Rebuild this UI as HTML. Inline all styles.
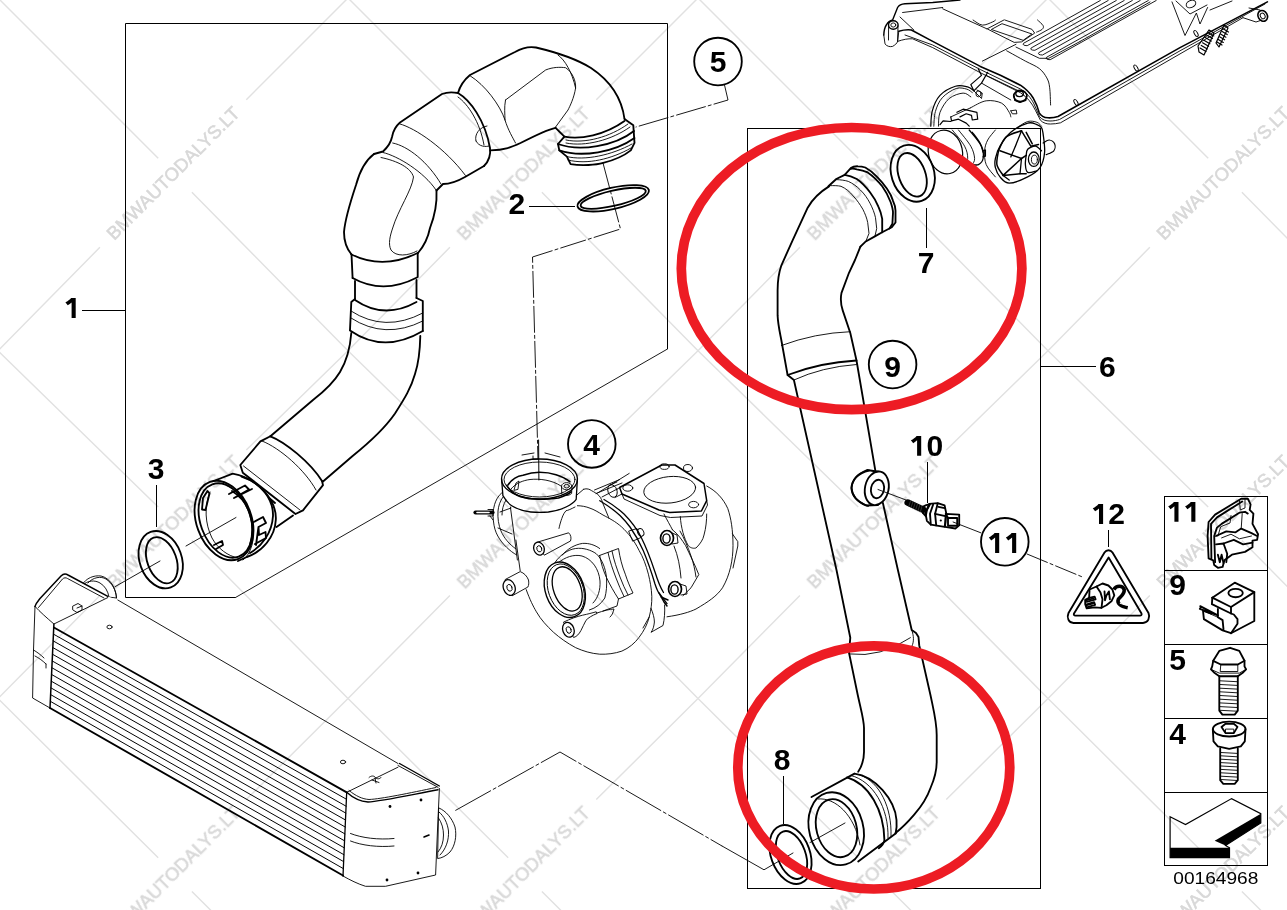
<!DOCTYPE html>
<html><head><meta charset="utf-8"><title>Diagram</title>
<style>
html,body{margin:0;padding:0;background:#fff;}
body{width:1287px;height:910px;overflow:hidden;font-family:"Liberation Sans",sans-serif;}
svg{display:block;}
.k{stroke:#000;fill:none;stroke-width:1.85;stroke-linecap:round;stroke-linejoin:round;}
.t{stroke:#000;fill:none;stroke-width:0.9;stroke-linecap:round;stroke-linejoin:round;}
.w{fill:#fff;}
.lbl{font-family:"Liberation Sans",sans-serif;font-weight:bold;fill:#000;text-anchor:middle;}
</style></head><body>
<svg width="1287" height="910" viewBox="0 0 1287 910">
<rect width="1287" height="910" fill="#fff"/>
<!-- frames and labels -->
<g class="t" style="stroke-width:1;stroke-linecap:butt">
<path d="M125.5,23.5H667.5V349"/>
<path d="M235.5,597.5H125.5V23.5"/>
<path d="M747.5,128V889"/><path d="M1040.5,128V889"/><path d="M747,128.5H1041"/><path d="M747,888.5H1041"/>
<path d="M82,310.5H125"/>
<path d="M1040,366.5H1096"/>
<path d="M529,206.5H575"/>
<path d="M156.5,485V527"/>
<path d="M926.5,208V248"/>
<path d="M927.5,462V503"/>
<path d="M783.5,776V824"/>
<path d="M1108.5,530V547"/>
</g>
<path class="t" stroke-width="1" d="M667.5,349L235.5,597.5"/>
<!-- hose 1 assembly -->
<g id="hose1">
<!-- white fill silhouette -->
<path class="w" d="M624.5,119 C622,100 612,82 591,68 C575,58 555,52 536,47.5 C528,46 522,48 515,52 L470,75 C464,80 460,86 458,93 C452,92 447,92 442,94 L400,122.5 C396,126 393,131 392,137 C391,142 389,146 383,151.5 L374,154 C366,160 360,170 356,185 C351,200 345,220 344,232 C344,240 346,248 351.5,254.5 L352.6,278 L355,282 L355,299 L351.3,302 L350,330 C350,350 346,362 340,372 C334,382 326,390 313,400 L270.4,436.3 L260.4,441.4 L240.3,465 L242.8,472.7 L295.5,514 L303,510.3 L323,485.2 L352.6,456 C370,442 385,428 395,413.5 C405,398 411,388 415,374 C418,365 420,350 420.3,336 L422.8,331 L422.8,301 L416.5,298 L416.5,280 L417.7,277 L417.7,253 C424,246 428,238 430,228 C435,215 437,200 436.5,190.5 L443,184 C452,184 458,181 465,177 L484,166 C488,162 491,156 490.4,150.4 C505,150 512,147 520.5,143 C540,133 550,129 555.6,127.8 Z"/>
<!-- seg A -->
<path class="k" d="M624.5,119 C622,100 612,82 591,68 C575,58 555,52 536,47.5 C528,46 522,48 515,52 L470,75 C464,80 460,86 458,93"/>
<path class="k" d="M555.6,127.8 C550,129 540,133 520.5,143 C512,147 505,150 490.4,150.4"/>
<path class="k" d="M458,93 C470,100 485,120 490,148 C491,156 488,162 484,166"/>
<path class="t" d="M470.4,76 C485,85 500,105 505,120 C508,130 513,138 515.5,143"/>
<path class="t" d="M458,97 C468,104 480,122 484,145"/>
<path class="t" d="M505.5,100 L545.6,70 C553,67 560,67 565.6,67.7 C572,72 576,80 575.6,88 C574,98 570,106 568,110 L555.6,127"/>
<path class="t" d="M558,55 C565,60 572,72 575.6,88"/>
<path class="t" d="M505.5,100 C504,108 505,114 505,120"/>
<path class="t" d="M476,141 C474,134 480,127 487,126 M476,141 C479,147 486,147 489,146"/>
<!-- seg B -->
<path class="k" d="M458,93 C452,92 447,92 442,94 L400,122.5 C396,126 393,131 392,137 C391,142 389,146 383,151.5 L374,154"/>
<path class="k" d="M484,166 L465,177 C458,181 452,184 443,184 L436.5,190.5"/>
<path class="t" d="M400,124 C415,128 445,148 465.4,175.4"/>
<path class="t" d="M392.7,143 C408,146 428,162 441,184"/>
<path class="t" d="M383,152.5 C398,156 424,172 436,190"/>
<!-- seg C elbow -->
<path class="k" d="M374,154 C366,160 360,170 356,185 C351,200 345,220 344,232 C344,240 346,248 351.5,254.5"/>
<path class="k" d="M436.5,190.5 C437,200 435,215 430,228 C428,238 424,246 418,253"/>
<path class="t" d="M381,157.5 C398,161 411,168 413.5,177 C412,190 398,210 392.7,228 C390,236 388,244 391,250 C396,257 408,256 417,251"/>
<!-- collar D -->
<path class="k" d="M351.5,254.5 L352.6,278 M417.7,253 L417.7,277"/>
<path class="k" d="M351.5,254.5 Q383,270 417.7,253"/>
<path class="k" d="M352.6,278 Q383,295 417,277.5"/>
<path class="k" d="M355,281 L355,299 M416.5,280 L416.5,298"/>
<!-- ring E -->
<path class="k" d="M355,299 L351.3,302 L350,330 M416.5,298 L422.8,301 L422.8,331"/>
<path class="k" d="M355,300 Q384,320 416.5,302"/>
<path class="t" d="M351,311 Q385,333 422.8,313"/>
<path class="t" d="M351,318 Q385,340 422.8,321"/>
<path class="k" d="M350,330.5 Q384,354 422.8,331"/>
<!-- lower hose F -->
<path class="k" d="M351.3,333 C350,350 346,362 340,372 C334,382 326,390 313,400 L270.4,436.3"/>
<path class="k" d="M420.3,336 C420,350 418,365 415,374 C411,388 405,398 395,413.5 C385,428 370,442 352.6,456 L323,481.5"/>
<!-- collar G -->
<path class="k" d="M270.4,436.3 L260.4,441.4 L240.3,465 L242.8,472.7 L295.5,514 L303,510.3 L323,485.2 L322,481"/>
<path class="k" d="M270.4,436.3 C285,442 310,462 322,481"/>
<path class="t" d="M262,441 C280,448 305,470 316,490"/>
<path class="t" d="M243.5,466 L300,510"/>
<!-- coupling H -->
<path class="k" stroke-width="1.4" d="M276.5,527 L293,515.5 M268,497 L275,503"/>
<path class="w" d="M232.7,473.6 C257,478 277,500 275.8,520 C275,537 262,552 246.8,557 L222,560 L197,508 L215,480 Z"/>
<path class="k" d="M215,480.5 L232.7,473.6 C257,478 277,500 275.8,520 C275,537 262,552 246.8,557 L238,561"/>
<path class="k" stroke-width="1.3" d="M241.5,476.5 C262,483 273.5,500 273,516 C272,533 262,546 250,553"/>
<ellipse class="w k" cx="224" cy="520.5" rx="27.5" ry="41" transform="rotate(-20 224 520.5)"/>
<ellipse class="k" stroke-width="1.2" cx="225.5" cy="520.5" rx="25" ry="38.5" transform="rotate(-20 225.5 520.5)"/>
<path class="t" d="M226,485 C246,494 258,520 252,545 C250,552 247,557 243,560"/>
<path class="k" stroke-width="1.2" d="M232,491 C250,502 256,524 250,545"/>
<path class="t" d="M210,492 C204,506 205,524 212,538 C218,549 228,556 238,558"/>
<path class="k" stroke-width="1.4" d="M229,494 L245,485.5 L249,489.5 L234,498 M234,498 L252,489"/>
<path class="k" stroke-width="1.6" d="M252,523 L263,517 L266,523 L258.5,527 L259,535 L265.5,532 L266,538 L255,544 M258.5,527 L256,545"/>
<path class="k" stroke-width="1.6" d="M203,498 L207.5,491 L209.5,493.5 L205.5,510 L202,509.5 Z"/>
<path class="k" stroke-width="1.2" d="M214,545 L222,541 L223,545 L216,549"/>
<!-- ring 3 -->
<ellipse class="w k" cx="160.7" cy="559.7" rx="21" ry="29.5" transform="rotate(-20 160.7 559.7)"/>
<ellipse class="k" cx="161.8" cy="560.2" rx="14.5" ry="24" transform="rotate(-20 161.8 560.2)"/>
<!-- ring 2 -->
<ellipse class="k" cx="613.2" cy="198.3" rx="36.6" ry="10.6" transform="rotate(-13 613.2 198.3)" stroke-width="1.5"/>
<ellipse class="k" cx="613.2" cy="198.3" rx="33.4" ry="7.6" transform="rotate(-13 613.2 198.3)" stroke-width="1.4"/>
<!-- connector at top right of hose -->
<path class="w k" d="M555.6,127.8 L564.4,136.6 L558,144 L559.3,150.4 L566.9,156.6 L570.6,164.2 C582,166 596,165 603.2,162.9 C615,160 625,155 630.8,150.4 L634.5,142.9 L633.3,125.3 L624.5,119"/>
<path class="k" d="M564.4,136.6 C580,140 605,135 624.5,121"/>
<path class="t" d="M566,140 C585,144 610,137 628,124"/>
<path class="t" d="M566,143 C585,147 612,140 630,127"/>
<path class="k" d="M558,144 C580,152 615,146 634,131"/>
<path class="k" d="M559.3,150.4 C582,158 615,152 634.5,138"/>
<path class="t" d="M566.9,156.6 C585,161 612,155 632,144"/>
<path class="t" d="M568,160 C587,165 612,159 631,148"/>
</g>
<!-- hose 6 -->
<g id="hose6">
<path class="w" d="M829,186.4 C820,192 812,200 807.7,207.7 L792.6,240.3 L781.4,265.3 C778,275 777.6,283 777.6,290.4 L777.6,315.4 C778,325 780,333 781.4,340.5 L787.6,375 L793.9,380 L836.5,570 L850.3,637.7 L849,652.7 L857.8,695.3 L864,725.4 L864,755.5 L858.2,771.8 L811.5,797 L808,830 L830,862 L858.2,861.4 L895.6,833.4 L914.2,814.7 L927.3,796 L936.7,765.5 L936.7,733 L930.5,695.3 L919.2,645.2 L918,635.2 L911.7,630 L897.9,570 L882.9,500.4 L875.3,470.3 L856.5,360.5 L850.3,333 L842.7,310.4 C841,305 840,300 841.5,292.9 L849,272.8 L859,247.8 L867.8,240.3 L880.4,232.7 L895.5,222.5 C895.5,215 895,208 893,200.8 C892,196 889,192 885.4,187.6 C880,180 873,172 865.3,167.6 C860,167 855,167 850.3,168.8 L840.3,177.6 Z"/>
<!-- left outline -->
<path class="k" d="M829,186.4 C820,192 812,200 807.7,207.7 L792.6,240.3 L781.4,265.3 C778,275 777.6,283 777.6,290.4 L777.6,315.4 C778,325 780,333 781.4,340.5 L787.6,375 L793.9,380 L836.5,570 L850.3,637.7 L849,652.7 L857.8,695.3 C861,710 864,720 864,728 L864,752 C864,760 862,766 858.2,771.8"/>
<!-- right outline -->
<path class="k" d="M860.4,246.7 L855,260 L849,272.8 L841.5,292.9 C840,300 841,305 842.7,310.4 L850.3,333 L856.5,360.5 L875.3,470.3"/>
<path class="k" d="M882.9,503 L897.9,570 L911.7,630 L916,633 L918.5,637 L919.2,645.2 L930.5,695.3 C934,712 936.7,722 936.7,735 L936.7,762 C936.7,772 934,780 930.5,788 C927,798 920,808 914.2,814.7 C908,822 902,828 895.6,833"/>
<!-- cuff top -->
<path class="k" d="M828.4,186.3 L836.3,179 L844.7,174.8 L850.8,168.1 C853,166.5 856,166.2 858,166.3 C861,166.3 863,166.7 865.3,167.5 C870,170 874,173.5 877.3,177.2 C881,181 884,184.5 887,188.7 C890,193 892,197 893,200.8 C894.5,204 895.5,207 895.5,210.4 L895.5,222.5 L891.8,227.3 L882.2,232.2 L874.9,236.4 L865.3,241.8 L860.4,246.7"/>
<path class="k" d="M844.7,174.8 C849,175.5 853,177 856.8,179 C862,182.5 866,187 870,192.3 C874,197.5 876.5,202 878.5,206.8 C880.5,211 881.5,215 882.2,218.9 L882.2,232.2"/>
<path class="k" stroke-width="1.4" d="M850.8,168.8 C853,168.5 855,168.8 856.8,169.3 C861,170 864.5,171 867.7,172.4 C873,176 878,181 882.2,186.3 C886,191.5 888.5,196.5 890.6,202 C892,206 893,209 893,212.8 L892.4,223.7 L889.5,228.5"/>
<path class="t" d="M836.3,179.6 C841,179.8 845,180.3 848.3,181.4 C853,183.5 857,186.5 860.4,190 C864.5,194 867.5,198.5 870,203.2 C872.5,208 874.5,213 875.5,217.7 L876.7,228.5 L874.9,236.4"/>
<path class="t" d="M829.6,185.7 C834,185.5 838,185.6 841,186.3 C846,188.5 850,192 853.2,196 C857,200 860,204.5 862.8,209.2 C865,213.5 866.8,218 867.7,222.5 L869,233.4 L865.9,241.2"/>
<!-- bands -->
<path class="t" d="M781.4,345.5 Q815,333 850.3,331.7"/>
<path class="k" d="M787.6,375 Q820,362.5 856.5,360.5"/>
<path class="t" d="M793.9,380 Q822,367 856.5,364.5"/>
<path class="t" d="M850.3,654 Q880,658 910.4,637.7"/>
<path class="t" d="M911.7,630 C914,636 914,642 912,646"/>
<!-- boss -->
<path class="w k" d="M867,470 C857,474 852,480 851.5,488 C852,496 858,502 866,505.5 L878,505 L880,472 Z" stroke="none"/>
<path class="k" d="M869,470.5 C858,473 852,480 851.5,488 C852,496 857,502 868,506"/>
<ellipse class="w k" cx="876.8" cy="488.3" rx="11.8" ry="17" transform="rotate(12 876.8 488.3)"/>
<ellipse class="k" cx="877.5" cy="489" rx="6.5" ry="9.3" transform="rotate(12 877.5 489)" stroke-width="1.3"/>
<path class="t" d="M878,489.5 L906,500"/>
<!-- sensor 10 -->
<path d="M907.7,502.6 L923.1,509.7" stroke="#000" stroke-width="6.6" stroke-linecap="round" fill="none"/>
<path d="M910.8,500.2 L908.6,506.9" stroke="#555" stroke-width="0.6" fill="none"/>
<path d="M913.1,501.2 L910.9,508.0" stroke="#555" stroke-width="0.6" fill="none"/>
<path d="M915.4,502.3 L913.2,509.1" stroke="#555" stroke-width="0.6" fill="none"/>
<path d="M917.7,503.4 L915.5,510.2" stroke="#555" stroke-width="0.6" fill="none"/>
<path d="M920.0,504.5 L917.8,511.2" stroke="#555" stroke-width="0.6" fill="none"/>
<path d="M922.3,505.5 L920.2,512.3" stroke="#555" stroke-width="0.6" fill="none"/>
<path class="k" stroke-width="1.5" fill="#fff" d="M923.1,506.6 L926.2,505.1 L930.0,504.2 L926.9,510.0 L925.8,516.2 L923.1,513.1 Z"/>
<path class="k" stroke-width="1.2" fill="none" d="M924.6,507.7 L923.1,513.1"/>
<path class="k" stroke-width="1.9" fill="#fff" d="M929.2,503.8 L937.7,503.1 L944.6,505.4 L946.2,513.1 L945.4,522.3 L944.6,526.9 L930.8,524.6 L926.9,520.8 L925.4,513.1 Z"/>
<path class="k" stroke-width="1.6" fill="none" d="M933.1,504.6 L930.0,513.8 L930.8,524.6"/>
<path class="k" stroke-width="1.6" fill="none" d="M937.7,503.5 L935.1,513.8 L936.2,525.4"/>
<path class="k" stroke-width="1.3" fill="none" d="M935.1,513.8 L945.4,516.2"/>
<path class="k" stroke-width="1.3" fill="none" d="M938.5,506.9 L944.6,508.2"/>
<circle cx="940.8" cy="520.5" r="1.1" fill="#000"/>
<path class="k" stroke-width="2.2" fill="#fff" d="M945.8,513.8 L959.2,514.6 L959.2,525.4 L955.4,528.5 L945.1,526.9 Z"/>
<path class="k" stroke-width="1.6" fill="#fff" d="M948.0,518.0 L957.2,518.0 L957.2,525.7 L948.0,525.7 Z"/>
<path class="k" stroke-width="1.4" fill="none" d="M945.8,513.8 L948.0,518.0"/>
<path class="t" d="M953.1,522.0 L980.8,532.8"/>
<!-- outlet cuff -->
<path class="k" d="M811.5,797 L854.5,773.6 M858.2,861.4 L895.6,833.4"/>
<path class="k" d="M854.5,773.6 C875,776 895,800 896.5,820 C897,826 896.5,830 895.6,833.4"/>
<path class="k" d="M847,777.4 C869,784 884,810 884.4,840 C884,844 882,846 878.8,848.3"/>
<path class="t" d="M860,775 C880,782 892,808 891,836"/>
<path class="t" d="M851,775.5 C873,781 889,808 888,838"/>
<ellipse class="w k" cx="836.2" cy="828.7" rx="27" ry="37" transform="rotate(-15 836.2 828.7)"/>
<ellipse class="k" cx="836.5" cy="828.2" rx="20" ry="29.5" transform="rotate(-15 836.5 828.2)"/>
<path class="t" d="M818,799 C835,797 855,815 860,845"/>
<path class="t" d="M845,823 L810,842.5"/>
<!-- ring 7 -->
<ellipse class="k" cx="912.7" cy="173.3" rx="21.3" ry="29" transform="rotate(-18 912.7 173.3)"/>
<ellipse class="k" cx="912.1" cy="174.8" rx="13.3" ry="22.7" transform="rotate(-20 912.1 174.8)"/>
<!-- ring 8 -->
<ellipse class="k" cx="790.5" cy="854.5" rx="19.5" ry="30.5" transform="rotate(-20 790.5 854.5)"/>
<ellipse class="k" cx="791.5" cy="855" rx="14" ry="25" transform="rotate(-20 791.5 855)"/>
<path class="t" d="M793,853 L764,869.8 L722,846"/>
</g>
<!-- turbocharger 4 -->
<g id="turbo" class="t" stroke-width="1">
<!-- dash-dot leader from ring 2 to turbo -->
<path d="M603,163 L620.5,229 L532.5,257 L538.5,478" stroke-dasharray="26 3 3 3"/>
<path d="M724.5,85 L728,100 L636,127" stroke-dasharray="30 3 3 3"/>
<!-- compressor volute outer -->
<path class="w" d="M512,508 L520.2,570.8 L526.2,589.6 C530,600 533,606 536.4,611.8 C541,620 547,626 553.5,632.3 C560,638 567,643 575.7,647.7 C583,651 591,653.5 599.7,654.2 C607,654.5 615,653.5 621.9,651.1 C629,648 635,643 639,637.4 C644,631 647.5,624 649.2,617 L665.5,616 C680,615 690,612 696,609 C708,602 717,596 722.5,587.8 C730,575 733,560 733,545.6 C733,530 731,518 727.8,508.6 C723,498 716,491 706.7,486 L704,483.5 L675,465 L661.8,465 L619.6,487.5 L597.6,493 L583.7,489.2 L577,478 L539.5,459 L502,478 L502.9,495.6 Z" stroke="none"/>
<path d="M515.9,540 L520.2,570.8 M526.2,589.6 C530,600 533,606 536.4,611.8 C541,620 547,626 553.5,632.3 C560,638 567,643 575.7,647.7 C583,651 591,653.5 599.7,654.2 C607,654.5 615,653.5 621.9,651.1 C629,648 635,643 639,637.4 C644,631 647.5,624 649.2,617 C651,610 652,603 651.8,596.4 C651.5,588 650,581 648.4,574.2 C646,565 643,557 639,550.3 C634,540 628,533 621.7,527 C615,521 609,518.3 603,515 C598,512 594,509.5 590,508.2 C586,506.5 581,505.7 577.4,505.7"/>
<!-- outlet ring -->
<ellipse class="w" cx="539.5" cy="479" rx="38" ry="20" stroke-width="1.3"/>
<path d="M501.6,479 L502.9,495.6 C506,501 509,504 511.7,505.7 C518,509.5 525,511.5 530.7,512 C537,512.6 543,512.6 548.4,512 C555,511 561,509.5 566,507 C570,505 574,502.5 576.2,499.3 L577.4,479" stroke-width="1.3"/>
<ellipse cx="539.5" cy="479.5" rx="35.5" ry="17.5"/>
<path d="M508,485 C512,479 518,476 523,475.3 C528,473.5 534,472.2 539.5,472.2 C545,472.2 551,473 556,474.7 C561,476.3 566,478.5 569.8,481.7" stroke-width="1.6"/>
<path d="M506.7,485.4 C510,491 515,494.5 520.6,496.8 C526,498.5 532,499.3 538.2,499.3 C545,499.3 552,499 558.5,498 C563,496.5 568,494.5 571,491.8" stroke-width="1.6"/>
<path d="M511,489 C516,483 523,480.5 530,479.5 C540,478.5 552,480 561,486"/>
<path d="M514,490 L516,483 L519,481 L518,489 Z M522,455 L534,453 M545,453 L560,457 M533,456 v3 h5"/>
<ellipse cx="566.7" cy="486.2" rx="5.2" ry="3.6"/>
<ellipse cx="566.7" cy="486.2" rx="2.6" ry="1.8"/>
<path d="M561.5,486.5 L561.8,494 C564,496 569,496 571.6,493.5 L572,486.5"/>
<!-- neck -->
<path d="M510.4,507 L517.4,560"/>
<path d="M575,507 C571,509 568,510.5 566,510.7 C563,514 562,518 561,520.8 C560,524 559.5,526 559,528.4"/>
<!-- left actuator arcs -->
<path d="M501.6,493 C498,496 496,500 494.6,504.4 C493,510 492.8,515 493.4,520.8 C494,527 495.5,532 497.8,536 C500,540 503,544 506.7,547.4 C510,550.5 513,553 516.8,555"/>
<path d="M503,497 C500,501 498.5,506 498,511 C497.5,518 498.5,525 501,531 C504,538 509,544 516,549"/>
<path d="M506,500 C503,505 502,510 502,515 M498,528 L512,534 M500,512 L511,508"/>
<path d="M475.5,512.5 H492.5" stroke-width="4.2"/>
<path d="M477,512.5 H489" stroke="#fff" stroke-width="1.6"/>
<path d="M488,509.5 L493,509.5 L493,516 L488,516 M490,516 L493,520"/>
<!-- boss 1 -->
<path class="w" d="M537,542.3 L568.6,532.8 C571,535 571.5,538 570.5,541 L544.6,555 Z"/>
<ellipse class="w" cx="539" cy="548.6" rx="5.2" ry="6.6" transform="rotate(-20 539 548.6)" stroke-width="1.3"/>
<ellipse cx="539.3" cy="548.8" rx="2.4" ry="3.2" transform="rotate(-20 539.3 548.8)"/>
<!-- boss 2 -->
<path class="w" d="M505.6,579.3 L520.2,571.6 C524,573 527,576 528.5,580 C529,583 528.8,585 527.9,587 L512.5,595.6 Z"/>
<ellipse class="w" cx="509.2" cy="587.5" rx="5.8" ry="8" transform="rotate(-20 509.2 587.5)" stroke-width="1.3"/>
<ellipse cx="509.5" cy="587.8" rx="2.5" ry="3.5" transform="rotate(-20 509.5 587.8)"/>
<!-- compressor nose -->
<path d="M555.2,562.2 C560,555 568,549.5 575.7,548.5 C583,547.5 591,550 596.2,553.7 C602,559 605.5,568 606.5,577.6 C607,585 606.5,592 604.8,598 C601,604 596,608 589.4,610"/>
<path d="M562,555.4 C567,549 575,544.5 582.6,543.4 C589,543 595,545 599.7,548.5"/>
<path d="M558,563 C565,557 574,554 582,556 C592,559 599,569 600,581 C600.5,590 598,598 593,603"/>
<!-- compressor inlet -->
<ellipse class="w" cx="564.8" cy="589.8" rx="19.3" ry="28.6" transform="rotate(-20 564.8 589.8)" stroke-width="1.4"/>
<ellipse cx="565.8" cy="589.6" rx="17.3" ry="26.6" transform="rotate(-20 565.8 589.6)"/>
<ellipse cx="567.2" cy="588.9" rx="13.6" ry="23" transform="rotate(-20 567.2 588.9)" stroke-width="1.3"/>
<!-- boss 3 + arm -->
<path class="w" d="M563.8,622 C570,619 577,616.5 582.6,615.2 C588,614 592,613 596.2,611.8 L597,613.5 C592,615.5 588,618 586,620.3 C584,624 582.5,627.5 580.9,630.6 C579,634 577,636.5 574,637.4 Z"/>
<ellipse class="w" cx="568.4" cy="629.8" rx="5.6" ry="7.6" transform="rotate(-20 568.4 629.8)" stroke-width="1.3"/>
<ellipse cx="568.7" cy="630" rx="2.4" ry="3.4" transform="rotate(-20 568.7 630)"/>
<path d="M597,613 C603,611 610,609 614,609 C613,613 612,615.5 610,617"/>
<!-- vane bracket -->
<path d="M599.7,555.4 L618.5,548.5 C620,558 622,566 625.3,574.2 C627.5,581 630,587 633,593 L618.5,599 C614,592 610,585 606.5,577.6 C603,570 601,563 599.7,555.4 Z"/>
<path d="M608,552.5 C610,562 613,570 616,578 C618.5,584.5 621,590.5 624,596.5"/>
<path d="M612,551 C614,561 617,569 620,577 C622.5,583.5 625,589.5 628,595"/>
<path d="M618.5,599 L617,606 L603,611"/>
<!-- center housing curves -->
<path d="M583.7,489.2 C587,488 590,489.5 591.3,490.5 C594,492 597,493.5 599,495.6 C601,498 602,500.5 602.7,503 L609,518.3"/>
<path d="M576.2,495.6 L583.7,489.2 M597.6,493 L629.2,473.4 M602,497 L621,487"/>
<path d="M599.8,500.7 C607,505 614,510 620,515.5 C624,519.5 627,523 630,527 C635,534 639.5,542 643.3,550.8 C648,562 652,574 655,584 C657,590 658,592 659,593 L667,603.6" stroke-width="1.3"/>
<path stroke-width="1.3" d="M604,499.5 C611,503.5 618,508.5 624,514 C631,521 637,529 641.5,538 C647,549 651,560 655,572 C657.5,580 660,587 663.5,592.5"/>
<path d="M594.5,490 L619.6,479.6 M596,493.5 L622,483"/>
<path d="M651,608.4 C653,613 654.4,618 654.4,622 C654,626 653,630 651,632.3 L663,625.5 C664.5,619 665,612 664.6,605"/>
<path d="M649.2,617 L643,628"/>
<!-- small bolt on center -->
<ellipse cx="640.7" cy="532.4" rx="3" ry="4" transform="rotate(-25 640.7 532.4)"/>
<path d="M629,531 L637,528.5 L641,537.5 L633,541 Z"/>
<!-- turbine flange -->
<path class="w" d="M619.6,487.5 L661.8,465 L675,465 L704,483.5 L706.7,500.7 L701.4,511 L669.7,512.6 L659,510 L622,494 Z" stroke-width="1.5"/>
<path d="M622,494 L624,499 L660,515.5 L670.5,517.5 L702,516 L707.5,505 L706.7,500.7"/>
<ellipse cx="669.7" cy="489.8" rx="26" ry="13.2" transform="rotate(-6 669.7 489.8)"/>
<ellipse cx="664.5" cy="466.6" rx="4.6" ry="2.8"/>
<ellipse cx="627.8" cy="488" rx="5" ry="3.2"/>
<ellipse cx="693.6" cy="504.6" rx="5" ry="3.2"/>
<ellipse cx="688" cy="468" rx="4.5" ry="3.5"/>
<!-- small fitting left of flange -->
<ellipse cx="612.5" cy="491" rx="4.5" ry="6.5" transform="rotate(-20 612.5 491)"/>
<path d="M609,485.5 L617,482 M615,497.5 L622,494"/>
<!-- turbine housing outer -->
<path d="M706.7,486 C716,491 723,498 727.8,508.6 C731,518 733,530 733,545.6 C733,560 730,575 722.5,587.8 C717,596 708,602 696,609 C690,612 680,615 667,616.8"/>
<path d="M732.5,534 L737.8,541.6 L737.8,546 L733,568"/>
<!-- outlet under flange -->
<path d="M680.3,516.5 C681,528 684,538 688.2,545.6 C691,548.5 694,548.5 696,548 C700,544 703,540 704,535 C706,528 706.7,520 706.7,514"/>
<path d="M664,514 C667,520 670,525 672.4,529.7"/>
<!-- bracket + bolts -->
<path d="M672.4,529.7 C678,534 682,540 685.6,545.6 C690,555 695,565 698.8,574.6 L691,587.8 L683,595.7"/>
<path d="M680,531 C684,538 688,547 691,556 C693.5,563 695,570 696,577"/>
<path d="M674,546 C678,556 680,566 681,578"/>
<ellipse class="w" cx="667" cy="538" rx="6.5" ry="7.5" stroke-width="1.7"/>
<ellipse cx="666.5" cy="538.5" rx="3.6" ry="4.6" stroke-width="1.4"/>
<path d="M672,533 L677,535 L678,543 L672,544"/>
<ellipse class="w" cx="675" cy="589" rx="6.5" ry="7.5" stroke-width="1.7"/>
<ellipse cx="674.5" cy="589.5" rx="3.6" ry="4.6" stroke-width="1.4"/>
<path d="M680,584 L686,586 L687,594 L681,595"/>
<path d="M659,593 L664,602 L667,606 M661,597 L668,600" stroke-width="1.5"/>
<path d="M538.6,440 L538.9,480" stroke-width="1"/>
</g>
<!-- manifold / throttle body -->
<g id="mani" class="t" stroke-width="1">
<path d="M883.8,35 C884,30 885,27 886.3,25 C888,22 890,20.5 892.6,20 L897.6,7.5 C899,5 902,4 905,3.8 L932.7,2.5 L960,0" stroke-width="1.4"/>
<path d="M883.8,35 L885,43.9 C887,46.5 890,47 892.6,46.4 C895,45 897,43.5 897.6,41.4 L898.8,31.3"/>
<ellipse cx="893.3" cy="25" rx="4.8" ry="4.2" stroke-width="1.4"/><ellipse cx="893.3" cy="25" rx="2.5" ry="2.1"/>
<path d="M888.6,26 L888.5,40 M898,26 L897.6,41.4"/>
<path d="M898.8,31.3 C903,30 907,29.5 911.4,30 L932.7,41.4 L980.3,66.4 L1000.4,75.2 L1020.4,85.2 C1026,89 1030,93 1033,97.7 C1036,103 1038,108 1039.2,112.8 C1041,116 1044,117.5 1048,117.8 C1052,118 1055,117.5 1058,116.5 L1180,47.6 L1267.4,1.9" stroke-width="1.6"/>
<path d="M897.6,41.4 C903,39.5 908,38.5 912.6,38.8 L932.7,47.6 L980.3,72.7 L1020.4,92.7 C1027,97 1032,103 1035.4,110.3 L1040.5,120.3 C1043,123 1047,124.2 1050.5,124 C1054,124 1057,123.6 1060.5,122.8 L1180,53.9 L1243,17.7"/>
<path d="M905,35 L932.7,45 L980.3,69.5 L1020.4,89 C1027,93 1031,98 1034,104 L1039.5,116.5 C1042,120 1046,121 1050,121 C1054,121 1057,120.3 1059.5,119.5 L1180,50.8 L1265,4"/>
<path d="M902.6,12.5 L942.7,7.5 M900,17 L913.9,30"/>
<path d="M942.7,8.8 L987.0,28.9"/>
<path d="M987.1,28.9 L1003.9,20.0"/>
<path d="M988.0,29.3 L1014.2,42.4 L1021.6,41.9 L1034.7,33.1 L1031.9,29.3 L1004.8,20.0"/>
<path d="M991.7,29.3 L1002.0,23.7 L1031.9,34.0 L1023.5,40.1 Z"/>
<path d="M973.1,20.0 C974.6,20.9 979.1,24.8 982.4,25.1 C985.7,25.4 990.5,22.7 992.7,21.9 C994.9,21.0 995.0,20.3 995.5,20.0"/>
<path d="M1037.5,20.0 C1038.4,20.9 1042.3,24.0 1043.1,25.6 C1043.9,27.2 1043.3,28.2 1042.2,29.3 C1041.1,30.4 1037.5,31.7 1036.6,32.1"/>
<path d="M982.4,61.1 L1016.0,44.3"/>
<path d="M1006.7,50.8 C1009.8,52.5 1019.9,58.1 1025.4,61.1 C1030.8,64.0 1035.8,65.8 1039.4,68.6 C1042.9,71.4 1045.1,74.8 1046.8,77.9 C1048.5,81.0 1049.0,82.7 1049.6,87.2 C1050.3,91.7 1050.4,102.0 1050.6,105.0"/>
<path d="M1016.0,47.1 L1039.4,58.3 L1048.7,58.3 L1080.0,41.5"/>
<path d="M1080.0,41.5 L1150.0,2.0"/>
<path d="M1100.3,0.5 L1023.5,43.3 Q1022.0,45.5 1027.2,45.7 L1108.2,0.5"/>
<path d="M1116.3,0.5 L1031.1,48.0 Q1029.6,50.2 1034.9,50.3 L1124.2,0.5"/>
<path d="M1132.3,0.5 L1038.8,52.7 Q1037.3,54.9 1042.5,55.0 L1140.2,0.5"/>
<path d="M1148.3,0.5 L1046.5,57.3 Q1045.0,59.5 1050.2,59.7 L1156.2,0.5"/>
<path d="M1172,1.9 L1185,35.5 L1196.4,13 L1200,24 L1207.6,7.5 M1176,1 L1190,14 L1207,5 M1210,10 L1232,1"/>
<ellipse cx="1191" cy="4" rx="5" ry="3.5" transform="rotate(-25 1191 4)"/>
<path d="M1198,46 L1209,30 L1214,33 L1204,55 L1199,52 Z M1216,43 L1224,25 L1228,28 L1219,47 Z" stroke-width="1.2"/>
<path d="M1200.0,48.0l6,3.5" stroke-width="1.2"/>
<path d="M1201.3,45.4l6,3.5" stroke-width="1.2"/>
<path d="M1202.6,42.8l6,3.5" stroke-width="1.2"/>
<path d="M1203.9,40.2l6,3.5" stroke-width="1.2"/>
<path d="M1205.2,37.6l6,3.5" stroke-width="1.2"/>
<path d="M1206.5,35.0l6,3.5" stroke-width="1.2"/>
<path d="M1207.8,32.4l6,3.5" stroke-width="1.2"/>
<path d="M1217.0,42.0l5,3" stroke-width="1.2"/>
<path d="M1218.3,39.4l5,3" stroke-width="1.2"/>
<path d="M1219.6,36.8l5,3" stroke-width="1.2"/>
<path d="M1220.9,34.2l5,3" stroke-width="1.2"/>
<path d="M1222.2,31.6l5,3" stroke-width="1.2"/>
<path d="M1223.5,29.0l5,3" stroke-width="1.2"/>
<path d="M1243,17.7 L1256,22 L1262,20"/>
<ellipse cx="1262.7" cy="15.9" rx="4.6" ry="5.6" transform="rotate(-30 1262.7 15.9)" stroke-width="1.6"/><ellipse cx="1262.7" cy="15.9" rx="2.3" ry="3" transform="rotate(-30 1262.7 15.9)"/>
<path d="M1249,8 L1260,10"/>
<ellipse cx="1076" cy="102.5" rx="1.6" ry="3.4" transform="rotate(-30 1076 102.5)"/>
<ellipse cx="1136" cy="68" rx="1.6" ry="3.4" transform="rotate(-30 1136 68)"/>
<ellipse cx="1196" cy="33.5" rx="1.6" ry="3.4" transform="rotate(-30 1196 33.5)"/>
<path stroke-width="1.2" d="M930.8,126.2 C931.0,123.6 930.8,115.9 932.3,110.8 C933.8,105.6 936.2,99.5 940.0,95.4 C943.8,91.3 950.8,87.6 955.4,86.2 C960.0,84.7 964.6,86.2 967.7,86.9 C970.8,87.7 972.8,90.1 973.8,90.8"/>
<path d="M933.8,126.2 C934.1,123.7 934.0,116.3 935.4,111.5 C936.8,106.8 938.8,101.5 942.3,97.7 C945.8,93.8 952.1,89.9 956.2,88.5 C960.3,87.1 964.2,88.5 966.9,89.2 C969.6,89.9 971.4,92.1 972.3,92.6"/>
<path d="M938.5,126.2 C938.7,123.8 938.2,116.9 940.0,112.3 C941.8,107.7 945.4,101.7 949.2,98.5 C953.1,95.3 959.5,93.3 963.1,93.1 C966.7,92.8 969.5,96.3 970.8,96.9"/>
<path d="M970.8,107.7 C973.3,106.5 981.0,101.5 986.2,100.8 C991.3,100.0 997.7,101.2 1001.5,103.1 C1005.4,105.0 1007.7,110.0 1009.2,112.3 C1010.8,114.6 1010.5,116.2 1010.8,116.9"/>
<path d="M950.8,116.9 L970.8,107.7"/>
<path stroke-width="1.2" d="M956.9,112.3 L963.1,109.2 L976.9,112.3 L977.7,119.2 L972.3,120.0 L971.5,115.4 L966.2,113.8 L960.0,116.9"/>
<path stroke-width="1.2" d="M950.8,116.9 L951.5,120.8 L958.5,119.2 L966.2,123.1 L969.2,126.2"/>
<path stroke-width="1.2" d="M940.0,124.6 L943.1,120.8 L950.8,121.5"/>
<path stroke-width="1.2" d="M978.5,69.2 L981.5,75.4 L970.8,84.6 L973.8,90.8 L981.5,83.1 L987.7,72.3"/>
<path d="M981.5,83.1 L1010.8,100.0"/>
<path d="M986.2,75.4 L1018.5,90.8"/>
<path d="M973.8,90.8 L981.5,98.5 L982.3,93.1 L976.9,90.0"/>
<ellipse cx="978.5" cy="93.8" rx="2.6" ry="3"/>
<path d="M1010.8,110.8 L1012.3,113.8 L1016.9,113.8 L1016.2,110.0 L1010.8,110.8"/>
<ellipse cx="1020.3" cy="96" rx="6.6" ry="5.6" stroke-width="1.6"/><ellipse cx="1019.6" cy="93.8" rx="3.8" ry="2.8" stroke-width="1.3"/>
<path stroke-width="1.3" d="M1014.2,96.2 L1014.8,100.3 L1020.0,102.3 L1025.8,100.3 L1026.5,96.2"/>
<ellipse cx="945.4" cy="152" rx="17" ry="22" transform="rotate(-12 945.4 152)" stroke-width="1.2"/>
<path d="M952.3,130.0 C954.4,132.7 962.1,141.4 964.6,146.2 C967.2,150.9 967.7,155.1 967.7,158.5 C967.7,161.8 965.1,164.9 964.6,166.2"/>
<path d="M958.5,130.0 C960.5,132.7 968.1,141.4 970.8,146.2 C973.5,150.9 974.4,155.4 974.6,158.5 C974.9,161.5 972.7,163.6 972.3,164.6"/>
<path stroke-width="1.3" d="M969.2,130.0 C971.3,132.7 979.2,141.4 981.5,146.2 C983.8,150.9 983.6,155.4 983.1,158.5 C982.6,161.5 980.3,163.6 978.5,164.6 C976.7,165.6 973.3,164.6 972.3,164.6"/>
<path stroke-width="1.3" d="M972.3,132.3 C973.6,134.1 978.2,139.7 980.0,143.1 C981.8,146.4 982.6,150.8 983.1,152.3"/>
<path stroke-width="1.3" d="M983.1,150.8 L985.4,150.0 L985.4,156.2 L983.1,156.9"/>
<path d="M995.4,130.0 C994.1,131.7 989.5,136.5 987.7,140.0 C985.9,143.5 984.9,146.7 984.6,150.8 C984.4,154.9 984.4,160.3 986.2,164.6 C987.9,169.0 993.8,174.9 995.4,176.9"/>
<path stroke-width="1.3" d="M995.4,158.5 C996.2,154.9 997.4,150.5 1000.0,146.2 C1002.6,141.8 1006.2,136.2 1010.8,132.3 C1015.4,128.5 1023.3,124.4 1027.7,123.1 C1032.1,121.8 1034.6,123.8 1036.9,124.6 C1039.2,125.4 1040.5,126.2 1041.5,127.7 C1042.6,129.2 1042.6,129.7 1043.1,133.8 C1043.6,137.9 1045.1,146.7 1044.6,152.3 C1044.1,157.9 1042.8,163.6 1040.0,167.7 C1037.2,171.8 1032.8,174.4 1027.7,176.9 C1022.6,179.5 1013.8,183.1 1009.2,183.1 C1004.6,183.1 1002.3,179.5 1000.0,176.9 C997.7,174.4 996.2,170.8 995.4,167.7 C994.6,164.6 994.6,162.1 995.4,158.5"/>
<path d="M1016.9,127.7 C1018.7,126.7 1024.4,122.4 1027.7,121.5 C1031.0,120.6 1034.6,121.5 1036.9,122.3 C1039.2,123.1 1040.8,125.5 1041.5,126.2"/>
<path stroke-width="1.5" d="M998.5,150.8 C999.7,148.5 1002.3,140.3 1006.2,136.9 C1010.0,133.6 1019.0,131.8 1021.5,130.8"/>
<path stroke-width="1.5" d="M1021.5,130.8 L1030.8,146.2 L1038.5,144.6"/>
<path stroke-width="1.5" d="M1000.0,150.8 L1021.5,158.5 L1026.2,155.4"/>
<path stroke-width="1.5" d="M1021.5,158.5 L1003.1,175.4 L1020.0,173.8 L1026.2,173.8"/>
<path stroke-width="1.3" d="M1015.4,146.2 L1021.5,130.8"/>
<path stroke-width="1.3" d="M1015.4,146.2 L1010.8,156.9"/>
<path stroke-width="1.3" d="M1020.0,173.8 L1021.5,158.5"/>
<path stroke-width="1.5" d="M998.5,150.8 C998.2,153.1 996.2,160.5 996.9,164.6 C997.7,168.7 1002.1,173.6 1003.1,175.4"/>
<path stroke-width="1.3" d="M1003.1,175.4 L1009.2,180.0"/>
<path stroke-width="1.5" d="M1026.2,132.3 L1032.3,143.8"/>
<path stroke-width="1.3" d="M1026.2,155.4 C1026.4,154.4 1026.2,150.8 1027.7,149.2 C1029.2,147.7 1033.1,145.9 1035.4,146.2 C1037.7,146.4 1040.5,150.0 1041.5,150.8"/>
<path stroke-width="1.3" d="M1026.2,155.4 C1026.0,156.9 1025.1,161.8 1025.4,164.6 C1025.6,167.4 1025.8,171.3 1027.7,172.3 C1029.6,173.3 1035.4,171.0 1036.9,170.8"/>
<ellipse cx="1033.8" cy="159.2" rx="5.4" ry="7.2" stroke-width="1.3"/>
<ellipse cx="1034.4" cy="159.6" rx="3" ry="4.4"/>
<path stroke-width="1.2" d="M1043.1,143.1 C1044.1,142.6 1047.3,139.9 1049.2,140.0 C1051.2,140.1 1053.8,142.1 1054.6,143.8 C1055.4,145.6 1055.3,149.0 1053.8,150.8 C1052.4,152.6 1047.4,154.0 1046.2,154.6"/>
</g>
<!-- intercooler -->
<g id="ic" class="t" stroke-width="1">
<path class="w" d="M82,585 C86,578 94,575 101,576 C110,578 116,588 116.5,598 L108,597 Z"/>
<path d="M88,583 C93,577 101,576 106,579 C112,583 116,590 116.5,598"/>
<path d="M82,585.5 C88,580 95,580 100,583 C105,586 108,591 109,597"/>
<path class="w" d="M35,606.4 C36,603 38,601 40,598.5 L61,576 C63,574 65.5,573.5 68,575 L107.8,596.4 L117.8,600 L398,763.5 L438,787.3 L439.4,788.5 L435.6,875 L385.5,886.3 L365.5,886.3 L343,876 L50,708 L32.6,698 Z" stroke="none"/>
<path d="M35,606.4 C36,603 38,601 40,598.5 L61,576 C63,574 65.5,573.5 68,575 L107.8,596.4" stroke-width="1.5"/>
<path d="M38.5,607.5 L62.5,579 C64,577.5 66,577.5 67.5,578.5 L104,598"/>
<path d="M35,606.4 C40,612 47,618 53.9,624 L107.8,597.6"/>
<path d="M35,606.4 L33.5,650 L32.6,698 L50,708"/>
<path d="M33.5,650 C37,652 41,655 44,658 M35,656 C39,658 43,661 46,664 M46,664 L46,668"/>
<path d="M53.9,624 L50,708" stroke-width="1.5"/>
<path d="M73,606 L78,603.5 L82,606 L82,610 L77,612.5 L73,610 Z M77,608 L82,606"/>
<ellipse cx="109.5" cy="627" rx="2.6" ry="1.8"/>
<ellipse cx="343" cy="762" rx="2.6" ry="1.8"/>
<path d="M117.8,600 L398,763.5"/>
<path d="M53.9,627.5 L346.7,792.3" stroke-width="1.9"/>
<path d="M50,708 L343,875.5" stroke-width="1.9"/>
<path d="M346.7,792.3 L343,876" stroke-width="1.3"/>
<path d="M53.6,634.2L346.4,799.2" stroke-width="1"/>
<path d="M53.2,640.9L346.1,806.2" stroke-width="1"/>
<path d="M52.9,647.6L345.8,813.1" stroke-width="1"/>
<path d="M52.6,654.3L345.5,820.0" stroke-width="1"/>
<path d="M52.3,661.0L345.2,827.0" stroke-width="1"/>
<path d="M52.0,667.8L344.9,833.9" stroke-width="1"/>
<path d="M51.6,674.5L344.5,840.8" stroke-width="1"/>
<path d="M51.3,681.2L344.2,847.8" stroke-width="1"/>
<path d="M51.0,687.9L343.9,854.7" stroke-width="1"/>
<path d="M50.6,694.6L343.6,861.6" stroke-width="1"/>
<path d="M50.3,701.3L343.3,868.6" stroke-width="1"/>
<path d="M346.7,792.3 L398,767.2 M398,765.5 L438,787.3" />
<path d="M399.5,763.5 L439.4,786" stroke-width="1.4"/>
<path d="M346.7,792.3 C353,798 360,801.5 368,802 C380,801.5 410,795 438,789.8" stroke-width="1.4"/>
<path d="M349,790.5 C356,796 362,799 369,799.5 C381,799 410,793 436,787.5"/>
<path d="M439.4,788.5 L437.5,830 L435.6,875 L385.5,886.3 L365.5,886.3 C358,884 350,880 343,876"/>
<path d="M350.5,833.5 C362,838 378,840 394,838.5 M350.5,841 C362,845.5 378,847.5 394,846"/>
<circle cx="390" cy="806.5" r="1.4" fill="#000" stroke="none"/>
<circle cx="421" cy="800" r="1.4" fill="#000" stroke="none"/>
<circle cx="387" cy="880" r="1.4" fill="#000" stroke="none"/>
<circle cx="418" cy="873" r="1.4" fill="#000" stroke="none"/>
<path d="M424,837 L429,835" stroke-width="1.6"/>
<path d="M369,777.5 C371,775.5 374,775.5 375.5,777.5 C377,779.5 380,779 381,777.5 M372,780 L379,782.5 M375,778 L376,783" />
<path class="w" d="M439,808 C446,811 452,818 455,827 C457,836 455,846 450,852 C446,856 442,858 438,858.5 Z"/>
<path d="M439,812 C444,816 447.5,823 448.5,831 C449,840 446,849 440,855"/>
<path d="M438.5,818 C442,823 443.5,829 443.5,835 C443.5,842 441.5,848 438,852"/>
<path d="M455.7,810.3 L560,752 L722,846" stroke-dasharray="40 3 3 3"/>
<path d="M115,586.7 L160,561" />
<path d="M186,546 L236,517.5" />
</g>
<!-- parts list -->
<g id="plist">
<g class="t" style="stroke-width:1;stroke-linecap:butt">
<path d="M1164.5,496V866"/><path d="M1267.5,496V866"/>
<path d="M1164,496.5H1268"/>
<path d="M1164,570.5H1268"/>
<path d="M1164,644.5H1268"/>
<path d="M1164,718.5H1268"/>
<path d="M1164,792.5H1268"/>
<path d="M1164,865.5H1268"/>
</g>
<path transform="translate(1178.5,521.8)" d="M0,0 V-19.9 H-4.6 C-5.8,-18.4 -8,-16.6 -10.3,-15.6 L-8,-12.6 C-6.6,-13.4 -5.2,-14.4 -4.1,-15.5 V0 Z" fill="#000"/><path transform="translate(1195.4,521.8)" d="M0,0 V-19.9 H-4.6 C-5.8,-18.4 -8,-16.6 -10.3,-15.6 L-8,-12.6 C-6.6,-13.4 -5.2,-14.4 -4.1,-15.5 V0 Z" fill="#000"/>
<g class="lbl" font-size="28.6">

<text transform="translate(1177.7,594.8) scale(1.05,1)">9</text>
<text transform="translate(1177.5,669.5) scale(1.05,1)">5</text>
<text transform="translate(1177.5,743.5) scale(1.05,1)">4</text>
</g>
<path class="k" stroke-width="1.5" d="M1208.6,522.0 L1215.1,514.6 L1241.2,498.7 L1247.8,498.7 L1250.6,504.3 L1249.7,509.9 L1253.4,513.6 L1252.5,523.9 L1258.1,534.2 L1257.1,539.8 L1252.5,540.7 L1252.5,547.2 L1245.0,551.9 L1231.9,554.7 L1224.4,560.3 L1222.6,566.9 L1217.9,567.8 L1214.2,565.0 L1213.2,560.3 L1208.6,558.4 L1207.6,536.0 Z"/>
<path class="k" stroke-width="1.2" d="M1211.4,558.4 L1211.0,523.9 L1217.0,517.4 L1242.2,501.5"/>
<path class="k" stroke-width="1.2" d="M1215.1,562.2 L1214.2,536.0 L1217.0,527.6 L1221.6,523.9 L1239.4,512.7 L1245.0,511.8 L1247.8,513.6"/>
<path class="t" d="M1217.9,536.0 L1220.7,526.7 L1230.0,523.0 L1231.0,515.5"/>
<path class="k" stroke-width="1.2" d="M1216.0,536.0 L1226.3,531.4 L1235.6,532.3 L1241.2,528.6 L1251.5,533.2 L1257.1,536.0"/>
<path class="k" stroke-width="1.4" d="M1216.0,544.4 L1223.5,543.5 L1227.2,553.8 L1226.3,562.2"/>
<path class="k" stroke-width="1.2" d="M1223.5,543.5 L1233.8,539.8 L1243.1,544.4 L1252.5,542.6"/>
<path class="t" d="M1221.6,537.9 L1231.0,534.2 L1239.4,538.8 L1251.5,536.0"/>
<path class="t" d="M1241.2,528.6 L1242.2,513.6"/>
<path class="t" d="M1239.4,500.5 L1240.3,509.9 L1245.0,508.0 L1245.0,499.6"/>
<path class="k" stroke-width="1.2" d="M1217.9,554.7 L1219.8,562.2 L1221.6,554.7 L1223.5,563.1"/>
<path class="k" stroke-width="1.5" d="M1212.3,597.7 L1234.7,582.7 L1254.3,592.1 L1254.3,621.0 L1231.0,633.2 L1222.6,630.4 L1203.9,619.1 L1203.0,610.7 L1211.4,613.5"/>
<path class="k" stroke-width="1.2" d="M1212.3,597.7 L1231.0,607.0 L1254.3,592.1"/>
<path class="k" stroke-width="1.2" d="M1212.3,597.7 L1211.9,604.2 L1231.0,613.5 L1231.0,607.0"/>
<path class="k" stroke-width="1.2" d="M1231.0,613.5 L1233.8,614.5 L1237.5,619.1 L1237.5,623.8 L1231.0,633.2"/>
<path class="k" stroke-width="1.2" d="M1217.9,608.9 L1217.9,617.3 L1222.6,620.1 L1223.5,629.4"/>
<path class="k" stroke-width="1.3" d="M1200.2,606.1 L1217.9,615.4 L1199.8,608.9 L1201.1,606.6"/>
<path class="t" d="M1203.0,610.7 L1217.9,617.3"/>
<ellipse class="k" stroke-width="1.2" cx="1235.6" cy="593.0" rx="7.2" ry="4.2"/>
<path class="k" stroke-width="1.4" d="M1213.2,660.8 L1219.3,650.9 L1230.1,647.8 L1239.3,650.9 L1244.5,660.8 L1244.5,666.3 L1246.1,669.4 L1242.4,673.1 L1237.8,676.2 L1219.3,676.2 L1214.7,673.1 L1211.0,669.4 L1212.2,666.3 Z"/>
<path class="k" stroke-width="1.1" d="M1213.2,660.8 L1220.8,664.5 L1237.8,664.5 L1244.5,660.8"/>
<path class="t" d="M1220.8,664.5 L1220.2,671.5 L1237.8,671.5 L1237.8,664.5"/>
<path class="t" d="M1211.0,669.4 L1219.3,673.1 L1239.3,673.1 L1246.1,669.4"/>
<path class="k" stroke-width="1.4" d="M1219.3,676.2 L1219.3,710.6 L1222.4,714.6 L1234.7,714.6 L1237.8,710.6 L1237.8,676.2"/>
<path class="t" d="M1219.9,680.8 L1237.2,681.7"/>
<path class="t" d="M1219.9,684.5 L1237.2,685.4"/>
<path class="t" d="M1219.9,688.2 L1237.2,689.1"/>
<path class="t" d="M1219.9,691.8 L1237.2,692.8"/>
<path class="t" d="M1219.9,695.5 L1237.2,696.5"/>
<path class="t" d="M1219.9,699.2 L1237.2,700.2"/>
<path class="t" d="M1219.9,702.9 L1237.2,703.8"/>
<path class="t" d="M1219.9,706.6 L1237.2,707.5"/>
<path class="t" d="M1219.9,710.3 L1237.2,711.2"/>
<ellipse class="k" stroke-width="1.4" cx="1229.2" cy="729.1" rx="16.3" ry="7.4"/>
<path class="k" stroke-width="1.4" d="M1212.8,729.1 L1213.5,741.4 L1217.8,746.3 L1229.2,748.8 L1240.8,746.3 L1244.8,741.4 L1245.5,729.1"/>
<path class="k" stroke-width="1.1" d="M1221.5,726.9 L1225.5,723.8 L1233.8,723.8 L1237.5,726.9 L1233.8,733.1 L1225.5,733.1 Z"/>
<path class="t" d="M1225.5,733.1 L1225.5,729.1 L1233.8,729.1 L1233.8,733.1"/>
<path class="k" stroke-width="1.4" d="M1220.2,748.5 L1220.2,780.2 L1223.3,783.8 L1234.7,783.8 L1237.8,780.2 L1237.8,748.5"/>
<path class="t" d="M1220.8,752.5 L1237.2,753.4"/>
<path class="t" d="M1220.8,755.8 L1237.2,756.8"/>
<path class="t" d="M1220.8,759.2 L1237.2,760.2"/>
<path class="t" d="M1220.8,762.6 L1237.2,763.5"/>
<path class="t" d="M1220.8,766.0 L1237.2,766.9"/>
<path class="t" d="M1220.8,769.4 L1237.2,770.3"/>
<path class="t" d="M1220.8,772.8 L1237.2,773.7"/>
<path class="t" d="M1220.8,776.2 L1237.2,777.1"/>
<path class="t" d="M1220.8,779.5 L1237.2,780.5"/>
<path d="M1170.1,816.8 L1185.5,824.5 L1231.6,798.6 L1260.8,813.7 L1260.8,822.9 L1225.5,845.4 L1229.5,847.8 L1229.5,857.7 L1170.1,857.7 Z" fill="#fff" stroke="#000" stroke-width="1.2" stroke-linejoin="miter"/>
<path d="M1170.1,847.8 L1229.5,847.8 L1229.5,857.7 L1170.1,857.7 Z" fill="#000"/>
<path d="M1214.7,840.8 L1260.8,813.7 L1260.8,822.9 L1225.5,845.4 Z" fill="#000"/>
<text x="1215.8" y="884" font-family="Liberation Sans, sans-serif" font-size="16" text-anchor="middle" textLength="85" lengthAdjust="spacingAndGlyphs" fill="#000">00164968</text>
</g>
<!-- warning triangle 12 -->
<g id="tri">
<path class="k" stroke-width="1.5" d="M1104.5,552.5 C1106.5,549.5 1110.5,549.5 1112.5,552.5 L1148.5,613 C1150.5,617.5 1148,623 1143,623 L1073.5,623 C1068.5,623 1066.5,617.5 1068.5,613 Z"/>
<path class="k" stroke-width="1.5" d="M1108.6,557.5 L1141.5,613.5 C1142,615 1141,615.6 1140,615.6 L1075.5,615.6 C1074,615.6 1073.5,614.5 1074,613.5 Z"/>
<path class="k" stroke-width="1.9" fill="#fff" d="M1089.6,589.5 L1096.5,586.5 L1102.5,583.5 L1108.4,585.5 L1112.4,589.5 L1114.3,595.4 L1111.4,601.3 L1106.4,605.3 L1101.5,607.8 L1094.6,607.3 L1086.7,608.4 L1085.2,604.3 L1085.2,599.8 L1089.1,597.9 Z"/>
<path class="k" stroke-width="1.7" fill="none" d="M1096.5,586.5 L1100.5,592.4 L1102.5,599.3 L1101.5,607.8"/>
<path class="k" stroke-width="1.6" fill="none" d="M1104.5,591.4 L1105.0,600.3 L1106.4,595.4 L1108.9,591.4 L1109.9,599.3"/>
<path class="k" stroke-width="1.6" fill="none" d="M1089.1,597.9 L1094.6,596.6 L1095.6,599.3 L1086.7,601.8"/>
<path class="k" stroke-width="1.6" fill="none" d="M1086.7,604.3 L1094.1,602.1 L1095.1,604.8 L1086.7,607.3"/>
<path class="k" stroke-width="2.2" fill="none" d="M1085.7,600.3 L1093.6,598.4"/>
<path class="k" stroke-width="2.2" fill="none" d="M1085.9,605.3 L1093.1,603.3"/>
<path d="M1113.9,589.5 C1116.3,585.5 1122.3,585.0 1124.2,589.5 C1124.7,594.4 1120.3,596.9 1118.3,599.3 C1116.8,603.3 1120.3,606.3 1127.7,607.8" fill="none" stroke="#000" stroke-width="3.6" stroke-linecap="butt" stroke-linejoin="round"/>
<path d="M1119.8,603.3 L1127.7,605.3" fill="none" stroke="#fff" stroke-width="0.9"/>
<path class="t" d="M1027,554 L1082.5,577" stroke-dasharray="22 3 3 3"/>
</g>
<!-- circled labels -->
<g class="k" stroke-width="1.9">
<circle cx="718" cy="61.5" r="23.8" class="w k"/>
<circle cx="591.8" cy="443.9" r="23.8" class="w k"/>
<circle cx="892.6" cy="364.5" r="23.8" class="w k"/>
<circle cx="1004.8" cy="541.8" r="23.8" class="w k"/>
</g>
<path transform="translate(75.7,317.9)" d="M0,0 V-19.9 H-4.6 C-5.8,-18.4 -8,-16.6 -10.3,-15.6 L-8,-12.6 C-6.6,-13.4 -5.2,-14.4 -4.1,-15.5 V0 Z" fill="#000"/>
<path transform="translate(921.2,455.8)" d="M0,0 V-19.9 H-4.6 C-5.8,-18.4 -8,-16.6 -10.3,-15.6 L-8,-12.6 C-6.6,-13.4 -5.2,-14.4 -4.1,-15.5 V0 Z" fill="#000"/>
<path transform="translate(999.2,553)" d="M0,0 V-19.9 H-4.6 C-5.8,-18.4 -8,-16.6 -10.3,-15.6 L-8,-12.6 C-6.6,-13.4 -5.2,-14.4 -4.1,-15.5 V0 Z" fill="#000"/>
<path transform="translate(1016.2,553)" d="M0,0 V-19.9 H-4.6 C-5.8,-18.4 -8,-16.6 -10.3,-15.6 L-8,-12.6 C-6.6,-13.4 -5.2,-14.4 -4.1,-15.5 V0 Z" fill="#000"/>
<path transform="translate(1103.1,523.9)" d="M0,0 V-19.9 H-4.6 C-5.8,-18.4 -8,-16.6 -10.3,-15.6 L-8,-12.6 C-6.6,-13.4 -5.2,-14.4 -4.1,-15.5 V0 Z" fill="#000"/>
<g class="lbl" font-size="28.6">
<text transform="translate(516.8,214.2) scale(1.05,1)">2</text>
<text transform="translate(156,478.5) scale(1.05,1)">3</text>
<text transform="translate(1107.3,377.1) scale(1.05,1)">6</text>
<text transform="translate(926,272.5) scale(1.05,1)">7</text>
<text transform="translate(782,769.5) scale(1.05,1)">8</text>
<text transform="translate(934.8,455.6) scale(1.05,1)">0</text>
<text transform="translate(1116.6,523.6) scale(1.05,1)">2</text>
<text transform="translate(718,71.7) scale(1.05,1)">5</text>
<text transform="translate(591.7,455.3) scale(1.05,1)">4</text>
<text transform="translate(892.6,377.2) scale(1.05,1)">9</text>
</g>
<g id="wm" stroke="#e1e1e1" stroke-width="1.45" fill="none" style="mix-blend-mode:multiply">
<path d="M-352.0,-2.0L-191.8,158.2M-158.1,192.2L-2.0,350.7M-352.0,350.7L-250.1,247.3M-103.7,99.7L-2.0,-2.0"/>
<path d="M-2.0,-2.0L158.2,158.2M191.9,192.2L348.0,350.7M-2.0,350.7L99.9,247.3M246.3,99.7L348.0,-2.0"/>
<path d="M348.0,-2.0L508.2,158.2M541.9,192.2L698.0,350.7M348.0,350.7L449.9,247.3M596.3,99.7L698.0,-2.0"/>
<path d="M698.0,-2.0L858.2,158.2M891.9,192.2L1048.0,350.7M698.0,350.7L799.9,247.3M946.3,99.7L1048.0,-2.0"/>
<path d="M1048.0,-2.0L1208.2,158.2M1241.9,192.2L1398.0,350.7M1048.0,350.7L1149.8,247.3M1296.3,99.7L1398.0,-2.0"/>
<path d="M1398.0,-2.0L1558.2,158.2M1591.9,192.2L1748.0,350.7M1398.0,350.7L1499.8,247.3M1646.3,99.7L1748.0,-2.0"/>
<path d="M-352.0,350.7L-191.8,507.1M-158.1,540.6L-2.0,698.5M-352.0,698.5L-250.1,595.5M-103.7,449.9L-2.0,350.7"/>
<path d="M-2.0,350.7L158.2,507.1M191.9,540.6L348.0,698.5M-2.0,698.5L99.9,595.5M246.3,449.9L348.0,350.7"/>
<path d="M348.0,350.7L508.2,507.1M541.9,540.6L698.0,698.5M348.0,698.5L449.9,595.5M596.3,449.9L698.0,350.7"/>
<path d="M698.0,350.7L858.2,507.1M891.9,540.6L1048.0,698.5M698.0,698.5L799.9,595.5M946.3,449.9L1048.0,350.7"/>
<path d="M1048.0,350.7L1208.2,507.1M1241.9,540.6L1398.0,698.5M1048.0,698.5L1149.8,595.5M1296.3,449.9L1398.0,350.7"/>
<path d="M1398.0,350.7L1558.2,507.1M1591.9,540.6L1748.0,698.5M1398.0,698.5L1499.8,595.5M1646.3,449.9L1748.0,350.7"/>
<path d="M-352.0,698.5L-191.8,857.8M-158.1,891.4L-2.0,1047.5M-352.0,1047.5L-250.1,945.6M-103.7,799.6L-2.0,698.5"/>
<path d="M-2.0,698.5L158.2,857.8M191.9,891.4L348.0,1047.5M-2.0,1047.5L99.9,945.6M246.3,799.6L348.0,698.5"/>
<path d="M348.0,698.5L508.2,857.8M541.9,891.4L698.0,1047.5M348.0,1047.5L449.9,945.6M596.3,799.6L698.0,698.5"/>
<path d="M698.0,698.5L858.2,857.8M891.9,891.4L1048.0,1047.5M698.0,1047.5L799.9,945.6M946.3,799.6L1048.0,698.5"/>
<path d="M1048.0,698.5L1208.2,857.8M1241.9,891.4L1398.0,1047.5M1048.0,1047.5L1149.8,945.6M1296.3,799.6L1398.0,698.5"/>
<path d="M1398.0,698.5L1558.2,857.8M1591.9,891.4L1748.0,1047.5M1398.0,1047.5L1499.8,945.6M1646.3,799.6L1748.0,698.5"/>
</g>
<g id="wmt" fill="#d8d8d8" stroke="#d8d8d8" stroke-width="0.55" style="mix-blend-mode:multiply" font-family="Liberation Sans, sans-serif" font-size="18.4" text-anchor="middle">
<text transform="translate(-177.0,173.0) rotate(-45)" x="0" y="6.5">BMWAUTODALYS.LT</text>
<text transform="translate(173.0,173.0) rotate(-45)" x="0" y="6.5">BMWAUTODALYS.LT</text>
<text transform="translate(523.0,173.0) rotate(-45)" x="0" y="6.5">BMWAUTODALYS.LT</text>
<text transform="translate(873.0,173.0) rotate(-45)" x="0" y="6.5">BMWAUTODALYS.LT</text>
<text transform="translate(1223.0,173.0) rotate(-45)" x="0" y="6.5">BMWAUTODALYS.LT</text>
<text transform="translate(1573.0,173.0) rotate(-45)" x="0" y="6.5">BMWAUTODALYS.LT</text>
<text transform="translate(-177.0,521.5) rotate(-45)" x="0" y="6.5">BMWAUTODALYS.LT</text>
<text transform="translate(173.0,521.5) rotate(-45)" x="0" y="6.5">BMWAUTODALYS.LT</text>
<text transform="translate(523.0,521.5) rotate(-45)" x="0" y="6.5">BMWAUTODALYS.LT</text>
<text transform="translate(873.0,521.5) rotate(-45)" x="0" y="6.5">BMWAUTODALYS.LT</text>
<text transform="translate(1223.0,521.5) rotate(-45)" x="0" y="6.5">BMWAUTODALYS.LT</text>
<text transform="translate(1573.0,521.5) rotate(-45)" x="0" y="6.5">BMWAUTODALYS.LT</text>
<text transform="translate(-177.0,872.5) rotate(-45)" x="0" y="6.5">BMWAUTODALYS.LT</text>
<text transform="translate(173.0,872.5) rotate(-45)" x="0" y="6.5">BMWAUTODALYS.LT</text>
<text transform="translate(523.0,872.5) rotate(-45)" x="0" y="6.5">BMWAUTODALYS.LT</text>
<text transform="translate(873.0,872.5) rotate(-45)" x="0" y="6.5">BMWAUTODALYS.LT</text>
<text transform="translate(1223.0,872.5) rotate(-45)" x="0" y="6.5">BMWAUTODALYS.LT</text>
<text transform="translate(1573.0,872.5) rotate(-45)" x="0" y="6.5">BMWAUTODALYS.LT</text>
</g><!-- red highlight ellipses -->
<g fill="none" stroke="#ed1c24" stroke-width="9.7">
<ellipse cx="851.6" cy="268.6" rx="170.3" ry="141.1"/>
<ellipse cx="873.8" cy="767.4" rx="136" ry="121.6"/>
</g>
</svg>
</body></html>
